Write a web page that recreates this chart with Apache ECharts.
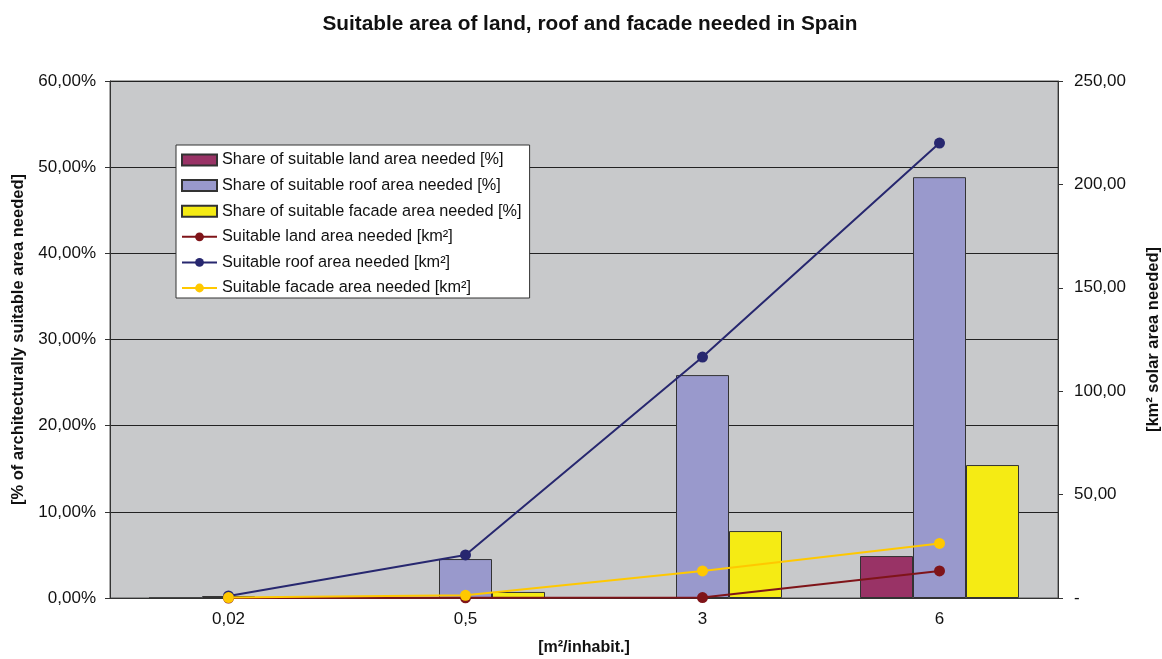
<!DOCTYPE html>
<html><head><meta charset="utf-8">
<script src="https://cdn.jsdelivr.net/npm/echarts@6/dist/echarts.min.js"></script>
<style>html,body{margin:0;padding:0;background:#fff}#c{width:1162px;height:659px}</style>
</head><body><div id="c"></div>
<script>
const categories = ['0,02', '0,5', '3', '6'];
const landShare = [0.01, 0.01, 0.02, 4.87];
const roofShare = [0.23, 4.52, 25.87, 48.84];
const facadeShare = [0.05, 0.7, 7.77, 15.43];
const landKm2 = [0.0, 0.1, 0.2, 13.1];
const roofKm2 = [1.0, 20.8, 116.5, 220.0];
const facadeKm2 = [0.2, 1.3, 13.1, 26.4];
const names = [
  'Share of suitable land area needed [%]',
  'Share of suitable roof area needed [%]',
  'Share of suitable facade area needed [%]',
  'Suitable land area needed [km²]',
  'Suitable roof area needed [km²]',
  'Suitable facade area needed [km²]'
];
const font = 'Liberation Sans, Arial, sans-serif';
const chart = echarts.init(document.getElementById('c'));
const bar = (name, data, color) => ({
  name, type: 'bar', data, yAxisIndex: 0, barWidth: 53, barGap: '0%',
  itemStyle: { color, borderColor: '#333', borderWidth: 1 }
});
const line = (name, data, color) => ({
  name, type: 'line', data, yAxisIndex: 1, symbol: 'circle', symbolSize: 11,
  lineStyle: { color, width: 2 }, itemStyle: { color }, z: 5
});
chart.setOption({
  animation: false,
  title: {
    text: 'Suitable area of land, roof and facade needed in Spain',
    left: 585, textAlign: 'center', top: 9,
    textStyle: { fontFamily: font, fontWeight: 'bold', fontSize: 20.8, color: '#111' }
  },
  grid: { left: 110, right: 104, top: 81, bottom: 61, containLabel: false, outerBoundsMode: 'none',
    show: true, backgroundColor: '#C8C9CB', borderColor: '#555', borderWidth: 1 },
  legend: {
    orient: 'vertical', left: 176, top: 145,
    data: names.map((n, i) => i < 3 ? { name: n, icon: 'rect' } : { name: n }),
    backgroundColor: '#fff', borderColor: '#333', borderWidth: 1,
    padding: [7, 8, 2, 5], itemGap: 9.6, itemWidth: 35, itemHeight: 11,
    textStyle: { fontFamily: font, fontSize: 16.3, color: '#111' }
  },
  xAxis: {
    type: 'category', data: categories,
    name: '[m²/inhabit.]', nameLocation: 'middle', nameGap: 42,
    nameTextStyle: { fontFamily: font, fontWeight: 'bold', fontSize: 16, color: '#111' },
    axisLine: { lineStyle: { color: '#333' } },
    axisTick: { inside: true, length: 6, lineStyle: { color: '#333' } },
    axisLabel: { fontFamily: font, fontSize: 17, color: '#111', margin: 13 }
  },
  yAxis: [{
    type: 'value', min: 0, max: 60, interval: 10, position: 'left',
    name: '[% of architecturally suitable area needed]', nameLocation: 'middle', nameGap: 77,
    nameTextStyle: { fontFamily: font, fontWeight: 'bold', fontSize: 16.5, color: '#111' },
    axisLine: { show: true, lineStyle: { color: '#333' } },
    axisTick: { show: true, length: 5, lineStyle: { color: '#333' } },
    axisLabel: { fontFamily: font, fontSize: 17, color: '#111', margin: 14,
      formatter: v => v.toFixed(2).replace('.', ',') + '%' },
    splitLine: { lineStyle: { color: '#222', width: 1 } }
  }, {
    type: 'value', min: 0, max: 250, interval: 50, position: 'right',
    name: '[km² solar area needed]', nameLocation: 'middle', nameGap: 87,
    nameTextStyle: { fontFamily: font, fontWeight: 'bold', fontSize: 16.5, color: '#111' },
    axisLine: { show: true, lineStyle: { color: '#333' } },
    axisTick: { show: true, length: 5, lineStyle: { color: '#333' } },
    axisLabel: { fontFamily: font, fontSize: 17, color: '#111', margin: 16,
      formatter: v => v === 0 ? '-' : v.toFixed(2).replace('.', ',') },
    splitLine: { show: false }
  }],
  series: [
    bar(names[0], landShare, '#993366'),
    bar(names[1], roofShare, '#9999CC'),
    bar(names[2], facadeShare, '#F5EB14'),
    line(names[3], landKm2, '#7F1419'),
    line(names[4], roofKm2, '#27276F'),
    line(names[5], facadeKm2, '#FFC800')
  ]
});
</script></body></html>
